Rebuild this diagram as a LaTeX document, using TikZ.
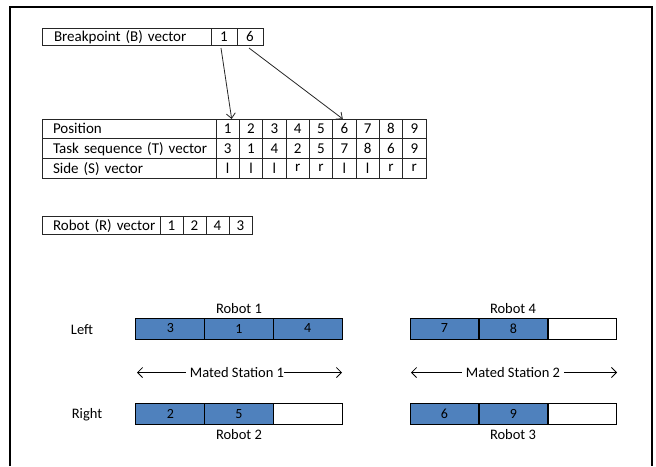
\documentclass[tikz,border=0pt]{standalone}
\usepackage{fontspec}
\setmainfont{Carlito}
\usetikzlibrary{arrows.meta,calc}
\definecolor{boxblue}{HTML}{4F81BD}
\definecolor{lineg}{HTML}{262626}
\begin{document}
\begin{tikzpicture}[x=1pt,y=-1pt,
  font=\fontsize{15}{17}\selectfont,
  every node/.style={inner sep=0pt, outer sep=0pt},
  lab/.style={draw=lineg, line width=0.9pt, rectangle, anchor=west, text depth=0pt},
  cellnum/.style={draw=lineg, line width=0.9pt, rectangle, minimum height=#1},
  bluecell/.style={draw=black, line width=1pt, fill=boxblue, minimum width=68.7pt, minimum height=21pt, font=\fontsize{14}{16}\selectfont},
  whitecell/.style={draw=black, line width=1pt, fill=white, minimum width=68.7pt, minimum height=21pt},
  plain/.style={font=\fontsize{14.5}{16}\selectfont},
  arr/.style={line width=0.8pt, draw=lineg, -{Straight Barb[length=5pt,width=9pt]}},
  harr/.style={line width=0.8pt, draw=black, -{Straight Barb[length=5pt,width=10pt]}}
]
\useasboundingbox (0,0) rectangle (656,466);
% frame
\draw[line width=2pt] (10,466) -- (10,7) -- (651.5,7) -- (651.5,466);

% Breakpoint vector
\node[lab, minimum width=169pt, minimum height=17pt, text width=161pt, align=left, inner xsep=0pt] (blab) at (42,36.5) {\hspace*{8pt}Breakpoint (B) vector};
\node[cellnum=17pt, minimum width=26pt] (b1) at (224,36.5) {1};
\node[cellnum=17pt, minimum width=26pt] (b6) at (250,36.5) {6};

% Position table
\def\rh{19.67}
\node[lab, minimum width=174pt, minimum height=\rh pt, text width=166pt, align=left] (plab) at (42,128.8) {\hspace*{7pt}Position};
\node[lab, minimum width=174pt, minimum height=\rh pt, text width=166pt, align=left] (tlab) at (42,148.5) {\hspace*{7pt}Task sequence (T) vector};
\node[lab, minimum width=174pt, minimum height=\rh pt, text width=166pt, align=left] (slab) at (42,168.2) {\hspace*{7pt}Side (S) vector};
\foreach \i/\t/\s in {1/3/l,2/1/l,3/4/l,4/2/r,5/5/r,6/7/l,7/8/l,8/6/r,9/9/r}{
  \node[cellnum=\rh pt, minimum width=23.33pt] (p\i) at ({216+23.33*(\i-0.5)},128.8) {\i};
  \node[cellnum=\rh pt, minimum width=23.33pt] (t\i) at ({216+23.33*(\i-0.5)},148.5) {\t};
  \node[cellnum=\rh pt, minimum width=23.33pt] (s\i) at ({216+23.33*(\i-0.5)},168.2) {\s};
}

% arrows from breakpoints
\draw[arr] ([xshift=-3pt,yshift=-3pt]b1.south) -- ([xshift=4pt]p1.north);
\draw[arr] ([xshift=-1pt,yshift=-3pt]b6.south) -- ([xshift=-1.5pt]p6.north);

% Robot vector
\node[lab, minimum width=118pt, minimum height=18pt, text width=110pt, align=left] (rlab) at (42,225.5) {\hspace*{7pt}Robot (R) vector};
\foreach \i/\v in {1/1,2/2,3/4,4/3}{
  \node[cellnum=18pt, minimum width=23pt] (r\i) at ({160+23*(\i-0.5)},225.5) {\v};
}

% Mated station 1
\node[bluecell] (m1a) at ({136+68.67*0.5},328.5) {3};
\node[bluecell] (m1b) at ({136+68.67*1.5},328.5) {1};
\node[bluecell] (m1c) at ({136+68.67*2.5},328.5) {4};
\node[bluecell] (m1d) at ({136+68.67*0.5},414) {2};
\node[bluecell] (m1e) at ({136+68.67*1.5},414) {5};
\node[whitecell] (m1f) at ({136+68.67*2.5},414) {};
\node[plain] (rob1) at (239,309) {Robot 1};
\node[plain] (rob2) at (239,435) {Robot 2};
\node[plain] (left) at (82,329.5) {Left};
\node[plain] (right) at (87,414.5) {Right};
\node[plain] (ms1) at (237,372.5) {Mated Station 1};
\coordinate (ms1l) at (137,372.5);
\coordinate (ms1r) at (342,372.5);
\draw[harr] ([xshift=-4pt]ms1.west) -- (ms1l);
\draw[harr] ([xshift=0pt]ms1.east) -- (ms1r);

% Mated station 2
\node[bluecell] (m2a) at ({410+69*0.5},328.5) {7};
\node[bluecell] (m2b) at ({410+69*1.5},328.5) {8};
\node[whitecell] (m2c) at ({410+69*2.5},328.5) {};
\node[bluecell] (m2d) at ({410+69*0.5},414) {6};
\node[bluecell] (m2e) at ({410+69*1.5},414) {9};
\node[whitecell] (m2f) at ({410+69*2.5},414) {};
\node[plain] (rob4) at (513,309) {Robot 4};
\node[plain] (rob3) at (513,435) {Robot 3};
\node[plain] (ms2) at (513,372.5) {Mated Station 2};
\coordinate (ms2l) at (411,372.5);
\coordinate (ms2r) at (617,372.5);
\draw[harr] ([xshift=-4pt]ms2.west) -- (ms2l);
\draw[harr] ([xshift=4pt]ms2.east) -- (ms2r);
\end{tikzpicture}
\end{document}
